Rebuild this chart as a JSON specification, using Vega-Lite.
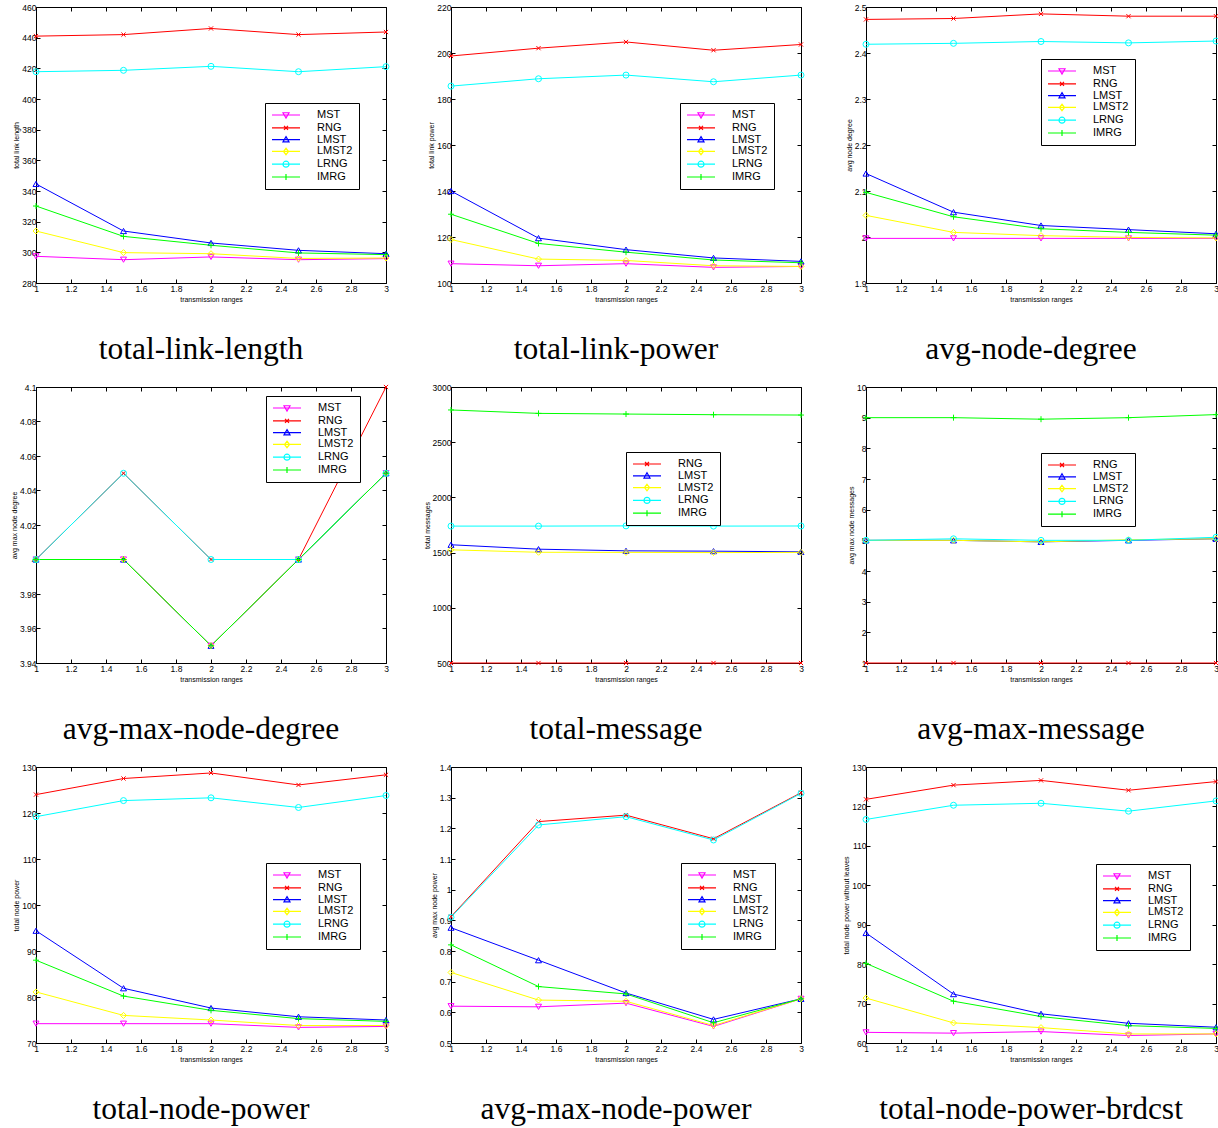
{
  "$schema": "https://vega.github.io/schema/vega-lite/v6.json",
  "padding": {"left": 9, "top": 2, "right": 0, "bottom": 0},
  "background": "white",
  "datasets": {
    "p1": [
      {"s":"MST","x":1,"y":297.4},{"s":"MST","x":1.5,"y":295.2},{"s":"MST","x":2,"y":297},{"s":"MST","x":2.5,"y":295.2},{"s":"MST","x":3,"y":295.9},
      {"s":"RNG","x":1,"y":441},{"s":"RNG","x":1.5,"y":442},{"s":"RNG","x":2,"y":446},{"s":"RNG","x":2.5,"y":442},{"s":"RNG","x":3,"y":443.7},
      {"s":"LMST","x":1,"y":344.6},{"s":"LMST","x":1.5,"y":313.9},{"s":"LMST","x":2,"y":306.1},{"s":"LMST","x":2.5,"y":301.3},{"s":"LMST","x":3,"y":299.1},
      {"s":"LMST2","x":1,"y":313.9},{"s":"LMST2","x":1.5,"y":299.8},{"s":"LMST2","x":2,"y":299.1},{"s":"LMST2","x":2.5,"y":296},{"s":"LMST2","x":3,"y":296.3},
      {"s":"LRNG","x":1,"y":417.8},{"s":"LRNG","x":1.5,"y":418.7},{"s":"LRNG","x":2,"y":421.3},{"s":"LRNG","x":2.5,"y":417.8},{"s":"LRNG","x":3,"y":421.1},
      {"s":"IMRG","x":1,"y":330.2},{"s":"IMRG","x":1.5,"y":310.4},{"s":"IMRG","x":2,"y":304.6},{"s":"IMRG","x":2.5,"y":299.6},{"s":"IMRG","x":3,"y":298.5}
    ],
    "p2": [
      {"s":"MST","x":1,"y":108.4},{"s":"MST","x":1.5,"y":107.5},{"s":"MST","x":2,"y":108.4},{"s":"MST","x":2.5,"y":106.8},{"s":"MST","x":3,"y":107.2},
      {"s":"RNG","x":1,"y":198.7},{"s":"RNG","x":1.5,"y":202.1},{"s":"RNG","x":2,"y":204.8},{"s":"RNG","x":2.5,"y":201.2},{"s":"RNG","x":3,"y":203.7},
      {"s":"LMST","x":1,"y":140},{"s":"LMST","x":1.5,"y":119.5},{"s":"LMST","x":2,"y":114.5},{"s":"LMST","x":2.5,"y":110.9},{"s":"LMST","x":3,"y":109.4},
      {"s":"LMST2","x":1,"y":118.9},{"s":"LMST2","x":1.5,"y":110.4},{"s":"LMST2","x":2,"y":109.8},{"s":"LMST2","x":2.5,"y":107.5},{"s":"LMST2","x":3,"y":107.2},
      {"s":"LRNG","x":1,"y":185.6},{"s":"LRNG","x":1.5,"y":188.8},{"s":"LRNG","x":2,"y":190.4},{"s":"LRNG","x":2.5,"y":187.5},{"s":"LRNG","x":3,"y":190.4},
      {"s":"IMRG","x":1,"y":129.9},{"s":"IMRG","x":1.5,"y":117.2},{"s":"IMRG","x":2,"y":113.4},{"s":"IMRG","x":2.5,"y":110},{"s":"IMRG","x":3,"y":108.8}
    ],
    "p3": [
      {"s":"MST","x":1,"y":1.997},{"s":"MST","x":1.5,"y":1.997},{"s":"MST","x":2,"y":1.997},{"s":"MST","x":2.5,"y":1.997},{"s":"MST","x":3,"y":1.997},
      {"s":"RNG","x":1,"y":2.473},{"s":"RNG","x":1.5,"y":2.475},{"s":"RNG","x":2,"y":2.485},{"s":"RNG","x":2.5,"y":2.48},{"s":"RNG","x":3,"y":2.48},
      {"s":"LMST","x":1,"y":2.138},{"s":"LMST","x":1.5,"y":2.054},{"s":"LMST","x":2,"y":2.025},{"s":"LMST","x":2.5,"y":2.016},{"s":"LMST","x":3,"y":2.007},
      {"s":"LMST2","x":1,"y":2.047},{"s":"LMST2","x":1.5,"y":2.01},{"s":"LMST2","x":2,"y":2.003},{"s":"LMST2","x":2.5,"y":1.999},{"s":"LMST2","x":3,"y":1.998},
      {"s":"LRNG","x":1,"y":2.419},{"s":"LRNG","x":1.5,"y":2.421},{"s":"LRNG","x":2,"y":2.425},{"s":"LRNG","x":2.5,"y":2.422},{"s":"LRNG","x":3,"y":2.426},
      {"s":"IMRG","x":1,"y":2.097},{"s":"IMRG","x":1.5,"y":2.044},{"s":"IMRG","x":2,"y":2.018},{"s":"IMRG","x":2.5,"y":2.01},{"s":"IMRG","x":3,"y":2.004}
    ],
    "p4": [
      {"s":"MST","x":1,"y":4},{"s":"MST","x":1.5,"y":4},{"s":"MST","x":2,"y":3.95},{"s":"MST","x":2.5,"y":4},{"s":"MST","x":3,"y":4.05},
      {"s":"RNG","x":1,"y":4},{"s":"RNG","x":1.5,"y":4.05},{"s":"RNG","x":2,"y":4},{"s":"RNG","x":2.5,"y":4},{"s":"RNG","x":3,"y":4.1},
      {"s":"LMST","x":1,"y":4},{"s":"LMST","x":1.5,"y":4},{"s":"LMST","x":2,"y":3.95},{"s":"LMST","x":2.5,"y":4},{"s":"LMST","x":3,"y":4.05},
      {"s":"LMST2","x":1,"y":4},{"s":"LMST2","x":1.5,"y":4},{"s":"LMST2","x":2,"y":3.95},{"s":"LMST2","x":2.5,"y":4},{"s":"LMST2","x":3,"y":4.05},
      {"s":"LRNG","x":1,"y":4},{"s":"LRNG","x":1.5,"y":4.05},{"s":"LRNG","x":2,"y":4},{"s":"LRNG","x":2.5,"y":4},{"s":"LRNG","x":3,"y":4.05},
      {"s":"IMRG","x":1,"y":4},{"s":"IMRG","x":1.5,"y":4},{"s":"IMRG","x":2,"y":3.95},{"s":"IMRG","x":2.5,"y":4},{"s":"IMRG","x":3,"y":4.05}
    ],
    "p5": [
      {"s":"RNG","x":1,"y":500},{"s":"RNG","x":1.5,"y":500},{"s":"RNG","x":2,"y":500},{"s":"RNG","x":2.5,"y":500},{"s":"RNG","x":3,"y":500},
      {"s":"LMST","x":1,"y":1571},{"s":"LMST","x":1.5,"y":1531},{"s":"LMST","x":2,"y":1516},{"s":"LMST","x":2.5,"y":1513},{"s":"LMST","x":3,"y":1507},
      {"s":"LMST2","x":1,"y":1525},{"s":"LMST2","x":1.5,"y":1503},{"s":"LMST2","x":2,"y":1502},{"s":"LMST2","x":2.5,"y":1500},{"s":"LMST2","x":3,"y":1502},
      {"s":"LRNG","x":1,"y":1740},{"s":"LRNG","x":1.5,"y":1740},{"s":"LRNG","x":2,"y":1742},{"s":"LRNG","x":2.5,"y":1740},{"s":"LRNG","x":3,"y":1741},
      {"s":"IMRG","x":1,"y":2792},{"s":"IMRG","x":1.5,"y":2761},{"s":"IMRG","x":2,"y":2755},{"s":"IMRG","x":2.5,"y":2749},{"s":"IMRG","x":3,"y":2746}
    ],
    "p6": [
      {"s":"RNG","x":1,"y":1},{"s":"RNG","x":1.5,"y":1},{"s":"RNG","x":2,"y":1},{"s":"RNG","x":2.5,"y":1},{"s":"RNG","x":3,"y":1},
      {"s":"LMST","x":1,"y":5},{"s":"LMST","x":1.5,"y":5},{"s":"LMST","x":2,"y":4.95},{"s":"LMST","x":2.5,"y":5},{"s":"LMST","x":3,"y":5.05},
      {"s":"LMST2","x":1,"y":5},{"s":"LMST2","x":1.5,"y":5},{"s":"LMST2","x":2,"y":4.95},{"s":"LMST2","x":2.5,"y":5.02},{"s":"LMST2","x":3,"y":5.05},
      {"s":"LRNG","x":1,"y":5},{"s":"LRNG","x":1.5,"y":5.05},{"s":"LRNG","x":2,"y":5},{"s":"LRNG","x":2.5,"y":5},{"s":"LRNG","x":3,"y":5.1},
      {"s":"IMRG","x":1,"y":9},{"s":"IMRG","x":1.5,"y":9},{"s":"IMRG","x":2,"y":8.95},{"s":"IMRG","x":2.5,"y":9},{"s":"IMRG","x":3,"y":9.1}
    ],
    "p7": [
      {"s":"MST","x":1,"y":74.2},{"s":"MST","x":1.5,"y":74.2},{"s":"MST","x":2,"y":74.2},{"s":"MST","x":2.5,"y":73.4},{"s":"MST","x":3,"y":73.6},
      {"s":"RNG","x":1,"y":124},{"s":"RNG","x":1.5,"y":127.5},{"s":"RNG","x":2,"y":128.7},{"s":"RNG","x":2.5,"y":126.1},{"s":"RNG","x":3,"y":128.3},
      {"s":"LMST","x":1,"y":94.4},{"s":"LMST","x":1.5,"y":81.9},{"s":"LMST","x":2,"y":77.6},{"s":"LMST","x":2.5,"y":75.7},{"s":"LMST","x":3,"y":75},
      {"s":"LMST2","x":1,"y":81.1},{"s":"LMST2","x":1.5,"y":76},{"s":"LMST2","x":2,"y":75},{"s":"LMST2","x":2.5,"y":73.8},{"s":"LMST2","x":3,"y":73.8},
      {"s":"LRNG","x":1,"y":119.2},{"s":"LRNG","x":1.5,"y":122.7},{"s":"LRNG","x":2,"y":123.3},{"s":"LRNG","x":2.5,"y":121.2},{"s":"LRNG","x":3,"y":123.8},
      {"s":"IMRG","x":1,"y":88},{"s":"IMRG","x":1.5,"y":80.2},{"s":"IMRG","x":2,"y":77.1},{"s":"IMRG","x":2.5,"y":75.3},{"s":"IMRG","x":3,"y":74.7}
    ],
    "p8": [
      {"s":"MST","x":1,"y":0.62},{"s":"MST","x":1.5,"y":0.618},{"s":"MST","x":2,"y":0.63},{"s":"MST","x":2.5,"y":0.554},{"s":"MST","x":3,"y":0.644},
      {"s":"RNG","x":1,"y":0.912},{"s":"RNG","x":1.5,"y":1.222},{"s":"RNG","x":2,"y":1.243},{"s":"RNG","x":2.5,"y":1.166},{"s":"RNG","x":3,"y":1.316},
      {"s":"LMST","x":1,"y":0.876},{"s":"LMST","x":1.5,"y":0.77},{"s":"LMST","x":2,"y":0.663},{"s":"LMST","x":2.5,"y":0.577},{"s":"LMST","x":3,"y":0.644},
      {"s":"LMST2","x":1,"y":0.73},{"s":"LMST2","x":1.5,"y":0.64},{"s":"LMST2","x":2,"y":0.636},{"s":"LMST2","x":2.5,"y":0.557},{"s":"LMST2","x":3,"y":0.644},
      {"s":"LRNG","x":1,"y":0.91},{"s":"LRNG","x":1.5,"y":1.211},{"s":"LRNG","x":2,"y":1.238},{"s":"LRNG","x":2.5,"y":1.162},{"s":"LRNG","x":3,"y":1.314},
      {"s":"IMRG","x":1,"y":0.82},{"s":"IMRG","x":1.5,"y":0.684},{"s":"IMRG","x":2,"y":0.66},{"s":"IMRG","x":2.5,"y":0.566},{"s":"IMRG","x":3,"y":0.644}
    ],
    "p9": [
      {"s":"MST","x":1,"y":62.7},{"s":"MST","x":1.5,"y":62.5},{"s":"MST","x":2,"y":62.9},{"s":"MST","x":2.5,"y":61.9},{"s":"MST","x":3,"y":62.3},
      {"s":"RNG","x":1,"y":121.8},{"s":"RNG","x":1.5,"y":125.4},{"s":"RNG","x":2,"y":126.6},{"s":"RNG","x":2.5,"y":124.1},{"s":"RNG","x":3,"y":126.3},
      {"s":"LMST","x":1,"y":87.9},{"s":"LMST","x":1.5,"y":72.4},{"s":"LMST","x":2,"y":67.4},{"s":"LMST","x":2.5,"y":65},{"s":"LMST","x":3,"y":64},
      {"s":"LMST2","x":1,"y":71.4},{"s":"LMST2","x":1.5,"y":65.1},{"s":"LMST2","x":2,"y":63.9},{"s":"LMST2","x":2.5,"y":62.3},{"s":"LMST2","x":3,"y":62.3},
      {"s":"LRNG","x":1,"y":116.7},{"s":"LRNG","x":1.5,"y":120.3},{"s":"LRNG","x":2,"y":120.8},{"s":"LRNG","x":2.5,"y":118.8},{"s":"LRNG","x":3,"y":121.4},
      {"s":"IMRG","x":1,"y":80.2},{"s":"IMRG","x":1.5,"y":70.6},{"s":"IMRG","x":2,"y":66.7},{"s":"IMRG","x":2.5,"y":64.4},{"s":"IMRG","x":3,"y":63.7}
    ]
  },
  "columns": 3,
  "spacing": {"row": 104, "column": 65},
  "bounds": "flush",
  "resolve": {"scale": {"color": "independent", "shape": "independent"}, "legend": {"color": "independent", "shape": "independent"}},
  "concat": [
    {
      "width": 350, "height": 276, "data": {"name": "p1"},
      "title": {"text": "total-link-length"},
      "layer": [
        {"mark": {"type": "line", "strokeWidth": 1},
         "encoding": {
           "x": {"field": "x", "type": "quantitative", "scale": {"domain": [1, 3], "nice": false, "zero": false}, "axis": {"orient": "bottom", "title": "transmission ranges", "values": [1,1.2,1.4,1.6,1.8,2,2.2,2.4,2.6,2.8,3], "labelExpr": "'' + datum.value"}},
           "y": {"field": "y", "type": "quantitative", "scale": {"domain": [280, 460], "nice": false, "zero": false}, "axis": {"orient": "left", "title": "total link length", "values": [280,300,320,340,360,380,400,420,440,460], "labelExpr": "'' + datum.value"}},
           "color": {"field": "s", "type": "nominal", "scale": {"domain": ["MST","RNG","LMST","LMST2","LRNG","IMRG"], "range": ["#ff00ff","#ff0000","#0000ff","#ffff00","#00ffff","#00ff00"]},
             "legend": {"legendX": 229, "legendY": 96, "title": null, "encode": {"symbols": {"update": {"shape": {"signal": "datum.value==='MST'?'M-2.8,0H2.8M-0.6,-0.45L0.6,-0.45L0,0.6Z':datum.value==='RNG'?'M-2.8,0H2.8M-0.4,-0.4L0.4,0.4M-0.4,0.4L0.4,-0.4':datum.value==='LMST'?'M-2.8,0H2.8M0,-0.6L0.6,0.45L-0.6,0.45Z':datum.value==='LMST2'?'M-2.8,0H2.8M0,-0.65L0.5,0L0,0.65L-0.5,0Z':datum.value==='LRNG'?'M-2.8,0H2.8M0.6,0A0.6,0.6,0,1,1,-0.6,0A0.6,0.6,0,1,1,0.6,0':'M-2.8,0H2.8M0,-0.6V0.6'"}, "fill": {"value": "transparent"}}}}}}
         }},
        {"mark": {"type": "point", "filled": false, "size": 36, "strokeWidth": 1, "opacity": 1},
         "encoding": {
           "x": {"field": "x", "type": "quantitative", "axis": {"orient": "top", "labels": false, "title": null, "values": [1,1.2,1.4,1.6,1.8,2,2.2,2.4,2.6,2.8,3]}},
           "y": {"field": "y", "type": "quantitative", "axis": {"orient": "right", "labels": false, "title": null, "values": [280,300,320,340,360,380,400,420,440,460]}},
           "color": {"field": "s", "type": "nominal", "legend": null},
           "shape": {"field": "s", "type": "nominal", "scale": {"domain": ["IMRG","LRNG","LMST2","LMST","RNG","MST"], "range": ["M-1,0H1M0,-1V1","circle","diamond","triangle-up","M-0.7,-0.7L0.7,0.7M-0.7,0.7L0.7,-0.7","triangle-down"]}, "legend": null}
         }}
      ]
    },
    {
      "width": 350, "height": 276, "data": {"name": "p2"},
      "title": {"text": "total-link-power"},
      "layer": [
        {"mark": {"type": "line", "strokeWidth": 1},
         "encoding": {
           "x": {"field": "x", "type": "quantitative", "scale": {"domain": [1, 3], "nice": false, "zero": false}, "axis": {"orient": "bottom", "title": "transmission ranges", "values": [1,1.2,1.4,1.6,1.8,2,2.2,2.4,2.6,2.8,3], "labelExpr": "'' + datum.value"}},
           "y": {"field": "y", "type": "quantitative", "scale": {"domain": [100, 220], "nice": false, "zero": false}, "axis": {"orient": "left", "title": "total link power", "values": [100,120,140,160,180,200,220], "labelExpr": "'' + datum.value"}},
           "color": {"field": "s", "type": "nominal", "scale": {"domain": ["MST","RNG","LMST","LMST2","LRNG","IMRG"], "range": ["#ff00ff","#ff0000","#0000ff","#ffff00","#00ffff","#00ff00"]},
             "legend": {"legendX": 229, "legendY": 96, "title": null, "encode": {"symbols": {"update": {"shape": {"signal": "datum.value==='MST'?'M-2.8,0H2.8M-0.6,-0.45L0.6,-0.45L0,0.6Z':datum.value==='RNG'?'M-2.8,0H2.8M-0.4,-0.4L0.4,0.4M-0.4,0.4L0.4,-0.4':datum.value==='LMST'?'M-2.8,0H2.8M0,-0.6L0.6,0.45L-0.6,0.45Z':datum.value==='LMST2'?'M-2.8,0H2.8M0,-0.65L0.5,0L0,0.65L-0.5,0Z':datum.value==='LRNG'?'M-2.8,0H2.8M0.6,0A0.6,0.6,0,1,1,-0.6,0A0.6,0.6,0,1,1,0.6,0':'M-2.8,0H2.8M0,-0.6V0.6'"}, "fill": {"value": "transparent"}}}}}}
         }},
        {"mark": {"type": "point", "filled": false, "size": 36, "strokeWidth": 1, "opacity": 1},
         "encoding": {
           "x": {"field": "x", "type": "quantitative", "axis": {"orient": "top", "labels": false, "title": null, "values": [1,1.2,1.4,1.6,1.8,2,2.2,2.4,2.6,2.8,3]}},
           "y": {"field": "y", "type": "quantitative", "axis": {"orient": "right", "labels": false, "title": null, "values": [100,120,140,160,180,200,220]}},
           "color": {"field": "s", "type": "nominal", "legend": null},
           "shape": {"field": "s", "type": "nominal", "scale": {"domain": ["IMRG","LRNG","LMST2","LMST","RNG","MST"], "range": ["M-1,0H1M0,-1V1","circle","diamond","triangle-up","M-0.7,-0.7L0.7,0.7M-0.7,0.7L0.7,-0.7","triangle-down"]}, "legend": null}
         }}
      ]
    },
    {
      "width": 350, "height": 276, "data": {"name": "p3"},
      "title": {"text": "avg-node-degree"},
      "layer": [
        {"mark": {"type": "line", "strokeWidth": 1},
         "encoding": {
           "x": {"field": "x", "type": "quantitative", "scale": {"domain": [1, 3], "nice": false, "zero": false}, "axis": {"orient": "bottom", "title": "transmission ranges", "values": [1,1.2,1.4,1.6,1.8,2,2.2,2.4,2.6,2.8,3], "labelExpr": "'' + datum.value"}},
           "y": {"field": "y", "type": "quantitative", "scale": {"domain": [1.9, 2.5], "nice": false, "zero": false}, "axis": {"orient": "left", "title": "avg node degree", "values": [1.9,2,2.1,2.2,2.3,2.4,2.5], "labelExpr": "'' + datum.value"}},
           "color": {"field": "s", "type": "nominal", "scale": {"domain": ["MST","RNG","LMST","LMST2","LRNG","IMRG"], "range": ["#ff00ff","#ff0000","#0000ff","#ffff00","#00ffff","#00ff00"]},
             "legend": {"legendX": 175, "legendY": 52, "title": null, "encode": {"symbols": {"update": {"shape": {"signal": "datum.value==='MST'?'M-2.8,0H2.8M-0.6,-0.45L0.6,-0.45L0,0.6Z':datum.value==='RNG'?'M-2.8,0H2.8M-0.4,-0.4L0.4,0.4M-0.4,0.4L0.4,-0.4':datum.value==='LMST'?'M-2.8,0H2.8M0,-0.6L0.6,0.45L-0.6,0.45Z':datum.value==='LMST2'?'M-2.8,0H2.8M0,-0.65L0.5,0L0,0.65L-0.5,0Z':datum.value==='LRNG'?'M-2.8,0H2.8M0.6,0A0.6,0.6,0,1,1,-0.6,0A0.6,0.6,0,1,1,0.6,0':'M-2.8,0H2.8M0,-0.6V0.6'"}, "fill": {"value": "transparent"}}}}}}
         }},
        {"mark": {"type": "point", "filled": false, "size": 36, "strokeWidth": 1, "opacity": 1},
         "encoding": {
           "x": {"field": "x", "type": "quantitative", "axis": {"orient": "top", "labels": false, "title": null, "values": [1,1.2,1.4,1.6,1.8,2,2.2,2.4,2.6,2.8,3]}},
           "y": {"field": "y", "type": "quantitative", "axis": {"orient": "right", "labels": false, "title": null, "values": [1.9,2,2.1,2.2,2.3,2.4,2.5]}},
           "color": {"field": "s", "type": "nominal", "legend": null},
           "shape": {"field": "s", "type": "nominal", "scale": {"domain": ["IMRG","LRNG","LMST2","LMST","RNG","MST"], "range": ["M-1,0H1M0,-1V1","circle","diamond","triangle-up","M-0.7,-0.7L0.7,0.7M-0.7,0.7L0.7,-0.7","triangle-down"]}, "legend": null}
         }}
      ]
    },
    {
      "width": 350, "height": 276, "data": {"name": "p4"},
      "title": {"text": "avg-max-node-degree"},
      "layer": [
        {"mark": {"type": "line", "strokeWidth": 1},
         "encoding": {
           "x": {"field": "x", "type": "quantitative", "scale": {"domain": [1, 3], "nice": false, "zero": false}, "axis": {"orient": "bottom", "title": "transmission ranges", "values": [1,1.2,1.4,1.6,1.8,2,2.2,2.4,2.6,2.8,3], "labelExpr": "'' + datum.value"}},
           "y": {"field": "y", "type": "quantitative", "scale": {"domain": [3.94, 4.1], "nice": false, "zero": false}, "axis": {"orient": "left", "title": "avg max node degree", "values": [3.94,3.96,3.98,4,4.02,4.04,4.06,4.08,4.1], "labelExpr": "'' + datum.value"}},
           "color": {"field": "s", "type": "nominal", "scale": {"domain": ["MST","RNG","LMST","LMST2","LRNG","IMRG"], "range": ["#ff00ff","#ff0000","#0000ff","#ffff00","#00ffff","#00ff00"]},
             "legend": {"legendX": 230, "legendY": 9, "title": null, "encode": {"symbols": {"update": {"shape": {"signal": "datum.value==='MST'?'M-2.8,0H2.8M-0.6,-0.45L0.6,-0.45L0,0.6Z':datum.value==='RNG'?'M-2.8,0H2.8M-0.4,-0.4L0.4,0.4M-0.4,0.4L0.4,-0.4':datum.value==='LMST'?'M-2.8,0H2.8M0,-0.6L0.6,0.45L-0.6,0.45Z':datum.value==='LMST2'?'M-2.8,0H2.8M0,-0.65L0.5,0L0,0.65L-0.5,0Z':datum.value==='LRNG'?'M-2.8,0H2.8M0.6,0A0.6,0.6,0,1,1,-0.6,0A0.6,0.6,0,1,1,0.6,0':'M-2.8,0H2.8M0,-0.6V0.6'"}, "fill": {"value": "transparent"}}}}}}
         }},
        {"mark": {"type": "point", "filled": false, "size": 36, "strokeWidth": 1, "opacity": 1},
         "encoding": {
           "x": {"field": "x", "type": "quantitative", "axis": {"orient": "top", "labels": false, "title": null, "values": [1,1.2,1.4,1.6,1.8,2,2.2,2.4,2.6,2.8,3]}},
           "y": {"field": "y", "type": "quantitative", "axis": {"orient": "right", "labels": false, "title": null, "values": [3.94,3.96,3.98,4,4.02,4.04,4.06,4.08,4.1]}},
           "color": {"field": "s", "type": "nominal", "legend": null},
           "shape": {"field": "s", "type": "nominal", "scale": {"domain": ["IMRG","LRNG","LMST2","LMST","RNG","MST"], "range": ["M-1,0H1M0,-1V1","circle","diamond","triangle-up","M-0.7,-0.7L0.7,0.7M-0.7,0.7L0.7,-0.7","triangle-down"]}, "legend": null}
         }}
      ]
    },
    {
      "width": 350, "height": 276, "data": {"name": "p5"},
      "title": {"text": "total-message"},
      "layer": [
        {"mark": {"type": "line", "strokeWidth": 1},
         "encoding": {
           "x": {"field": "x", "type": "quantitative", "scale": {"domain": [1, 3], "nice": false, "zero": false}, "axis": {"orient": "bottom", "title": "transmission ranges", "values": [1,1.2,1.4,1.6,1.8,2,2.2,2.4,2.6,2.8,3], "labelExpr": "'' + datum.value"}},
           "y": {"field": "y", "type": "quantitative", "scale": {"domain": [500, 3000], "nice": false, "zero": false}, "axis": {"orient": "left", "title": "total messages", "values": [500,1000,1500,2000,2500,3000], "labelExpr": "'' + datum.value"}},
           "color": {"field": "s", "type": "nominal", "scale": {"domain": ["RNG","LMST","LMST2","LRNG","IMRG"], "range": ["#ff0000","#0000ff","#ffff00","#00ffff","#00ff00"]},
             "legend": {"legendX": 175, "legendY": 65, "title": null, "encode": {"symbols": {"update": {"shape": {"signal": "datum.value==='MST'?'M-2.8,0H2.8M-0.6,-0.45L0.6,-0.45L0,0.6Z':datum.value==='RNG'?'M-2.8,0H2.8M-0.4,-0.4L0.4,0.4M-0.4,0.4L0.4,-0.4':datum.value==='LMST'?'M-2.8,0H2.8M0,-0.6L0.6,0.45L-0.6,0.45Z':datum.value==='LMST2'?'M-2.8,0H2.8M0,-0.65L0.5,0L0,0.65L-0.5,0Z':datum.value==='LRNG'?'M-2.8,0H2.8M0.6,0A0.6,0.6,0,1,1,-0.6,0A0.6,0.6,0,1,1,0.6,0':'M-2.8,0H2.8M0,-0.6V0.6'"}, "fill": {"value": "transparent"}}}}}}
         }},
        {"mark": {"type": "point", "filled": false, "size": 36, "strokeWidth": 1, "opacity": 1},
         "encoding": {
           "x": {"field": "x", "type": "quantitative", "axis": {"orient": "top", "labels": false, "title": null, "values": [1,1.2,1.4,1.6,1.8,2,2.2,2.4,2.6,2.8,3]}},
           "y": {"field": "y", "type": "quantitative", "axis": {"orient": "right", "labels": false, "title": null, "values": [500,1000,1500,2000,2500,3000]}},
           "color": {"field": "s", "type": "nominal", "legend": null},
           "shape": {"field": "s", "type": "nominal", "scale": {"domain": ["IMRG","LRNG","LMST2","LMST","RNG"], "range": ["M-1,0H1M0,-1V1","circle","diamond","triangle-up","M-0.7,-0.7L0.7,0.7M-0.7,0.7L0.7,-0.7"]}, "legend": null}
         }}
      ]
    },
    {
      "width": 350, "height": 276, "data": {"name": "p6"},
      "title": {"text": "avg-max-message"},
      "layer": [
        {"mark": {"type": "line", "strokeWidth": 1},
         "encoding": {
           "x": {"field": "x", "type": "quantitative", "scale": {"domain": [1, 3], "nice": false, "zero": false}, "axis": {"orient": "bottom", "title": "transmission ranges", "values": [1,1.2,1.4,1.6,1.8,2,2.2,2.4,2.6,2.8,3], "labelExpr": "'' + datum.value"}},
           "y": {"field": "y", "type": "quantitative", "scale": {"domain": [1, 10], "nice": false, "zero": false}, "axis": {"orient": "left", "title": "avg max node messages", "values": [1,2,3,4,5,6,7,8,9,10], "labelExpr": "'' + datum.value"}},
           "color": {"field": "s", "type": "nominal", "scale": {"domain": ["RNG","LMST","LMST2","LRNG","IMRG"], "range": ["#ff0000","#0000ff","#ffff00","#00ffff","#00ff00"]},
             "legend": {"legendX": 175, "legendY": 66, "title": null, "encode": {"symbols": {"update": {"shape": {"signal": "datum.value==='MST'?'M-2.8,0H2.8M-0.6,-0.45L0.6,-0.45L0,0.6Z':datum.value==='RNG'?'M-2.8,0H2.8M-0.4,-0.4L0.4,0.4M-0.4,0.4L0.4,-0.4':datum.value==='LMST'?'M-2.8,0H2.8M0,-0.6L0.6,0.45L-0.6,0.45Z':datum.value==='LMST2'?'M-2.8,0H2.8M0,-0.65L0.5,0L0,0.65L-0.5,0Z':datum.value==='LRNG'?'M-2.8,0H2.8M0.6,0A0.6,0.6,0,1,1,-0.6,0A0.6,0.6,0,1,1,0.6,0':'M-2.8,0H2.8M0,-0.6V0.6'"}, "fill": {"value": "transparent"}}}}}}
         }},
        {"mark": {"type": "point", "filled": false, "size": 36, "strokeWidth": 1, "opacity": 1},
         "encoding": {
           "x": {"field": "x", "type": "quantitative", "axis": {"orient": "top", "labels": false, "title": null, "values": [1,1.2,1.4,1.6,1.8,2,2.2,2.4,2.6,2.8,3]}},
           "y": {"field": "y", "type": "quantitative", "axis": {"orient": "right", "labels": false, "title": null, "values": [1,2,3,4,5,6,7,8,9,10]}},
           "color": {"field": "s", "type": "nominal", "legend": null},
           "shape": {"field": "s", "type": "nominal", "scale": {"domain": ["IMRG","LRNG","LMST2","LMST","RNG"], "range": ["M-1,0H1M0,-1V1","circle","diamond","triangle-up","M-0.7,-0.7L0.7,0.7M-0.7,0.7L0.7,-0.7"]}, "legend": null}
         }}
      ]
    },
    {
      "width": 350, "height": 276, "data": {"name": "p7"},
      "title": {"text": "total-node-power"},
      "layer": [
        {"mark": {"type": "line", "strokeWidth": 1},
         "encoding": {
           "x": {"field": "x", "type": "quantitative", "scale": {"domain": [1, 3], "nice": false, "zero": false}, "axis": {"orient": "bottom", "title": "transmission ranges", "values": [1,1.2,1.4,1.6,1.8,2,2.2,2.4,2.6,2.8,3], "labelExpr": "'' + datum.value"}},
           "y": {"field": "y", "type": "quantitative", "scale": {"domain": [70, 130], "nice": false, "zero": false}, "axis": {"orient": "left", "title": "total node power", "values": [70,80,90,100,110,120,130], "labelExpr": "'' + datum.value"}},
           "color": {"field": "s", "type": "nominal", "scale": {"domain": ["MST","RNG","LMST","LMST2","LRNG","IMRG"], "range": ["#ff00ff","#ff0000","#0000ff","#ffff00","#00ffff","#00ff00"]},
             "legend": {"legendX": 230, "legendY": 96, "title": null, "encode": {"symbols": {"update": {"shape": {"signal": "datum.value==='MST'?'M-2.8,0H2.8M-0.6,-0.45L0.6,-0.45L0,0.6Z':datum.value==='RNG'?'M-2.8,0H2.8M-0.4,-0.4L0.4,0.4M-0.4,0.4L0.4,-0.4':datum.value==='LMST'?'M-2.8,0H2.8M0,-0.6L0.6,0.45L-0.6,0.45Z':datum.value==='LMST2'?'M-2.8,0H2.8M0,-0.65L0.5,0L0,0.65L-0.5,0Z':datum.value==='LRNG'?'M-2.8,0H2.8M0.6,0A0.6,0.6,0,1,1,-0.6,0A0.6,0.6,0,1,1,0.6,0':'M-2.8,0H2.8M0,-0.6V0.6'"}, "fill": {"value": "transparent"}}}}}}
         }},
        {"mark": {"type": "point", "filled": false, "size": 36, "strokeWidth": 1, "opacity": 1},
         "encoding": {
           "x": {"field": "x", "type": "quantitative", "axis": {"orient": "top", "labels": false, "title": null, "values": [1,1.2,1.4,1.6,1.8,2,2.2,2.4,2.6,2.8,3]}},
           "y": {"field": "y", "type": "quantitative", "axis": {"orient": "right", "labels": false, "title": null, "values": [70,80,90,100,110,120,130]}},
           "color": {"field": "s", "type": "nominal", "legend": null},
           "shape": {"field": "s", "type": "nominal", "scale": {"domain": ["IMRG","LRNG","LMST2","LMST","RNG","MST"], "range": ["M-1,0H1M0,-1V1","circle","diamond","triangle-up","M-0.7,-0.7L0.7,0.7M-0.7,0.7L0.7,-0.7","triangle-down"]}, "legend": null}
         }}
      ]
    },
    {
      "width": 350, "height": 276, "data": {"name": "p8"},
      "title": {"text": "avg-max-node-power"},
      "layer": [
        {"mark": {"type": "line", "strokeWidth": 1},
         "encoding": {
           "x": {"field": "x", "type": "quantitative", "scale": {"domain": [1, 3], "nice": false, "zero": false}, "axis": {"orient": "bottom", "title": "transmission ranges", "values": [1,1.2,1.4,1.6,1.8,2,2.2,2.4,2.6,2.8,3], "labelExpr": "'' + datum.value"}},
           "y": {"field": "y", "type": "quantitative", "scale": {"domain": [0.5, 1.4], "nice": false, "zero": false}, "axis": {"orient": "left", "title": "avg max node power", "values": [0.5,0.6,0.7,0.8,0.9,1,1.1,1.2,1.3,1.4], "labelExpr": "'' + datum.value"}},
           "color": {"field": "s", "type": "nominal", "scale": {"domain": ["MST","RNG","LMST","LMST2","LRNG","IMRG"], "range": ["#ff00ff","#ff0000","#0000ff","#ffff00","#00ffff","#00ff00"]},
             "legend": {"legendX": 230, "legendY": 96, "title": null, "encode": {"symbols": {"update": {"shape": {"signal": "datum.value==='MST'?'M-2.8,0H2.8M-0.6,-0.45L0.6,-0.45L0,0.6Z':datum.value==='RNG'?'M-2.8,0H2.8M-0.4,-0.4L0.4,0.4M-0.4,0.4L0.4,-0.4':datum.value==='LMST'?'M-2.8,0H2.8M0,-0.6L0.6,0.45L-0.6,0.45Z':datum.value==='LMST2'?'M-2.8,0H2.8M0,-0.65L0.5,0L0,0.65L-0.5,0Z':datum.value==='LRNG'?'M-2.8,0H2.8M0.6,0A0.6,0.6,0,1,1,-0.6,0A0.6,0.6,0,1,1,0.6,0':'M-2.8,0H2.8M0,-0.6V0.6'"}, "fill": {"value": "transparent"}}}}}}
         }},
        {"mark": {"type": "point", "filled": false, "size": 36, "strokeWidth": 1, "opacity": 1},
         "encoding": {
           "x": {"field": "x", "type": "quantitative", "axis": {"orient": "top", "labels": false, "title": null, "values": [1,1.2,1.4,1.6,1.8,2,2.2,2.4,2.6,2.8,3]}},
           "y": {"field": "y", "type": "quantitative", "axis": {"orient": "right", "labels": false, "title": null, "values": [0.5,0.6,0.7,0.8,0.9,1,1.1,1.2,1.3,1.4]}},
           "color": {"field": "s", "type": "nominal", "legend": null},
           "shape": {"field": "s", "type": "nominal", "scale": {"domain": ["IMRG","LRNG","LMST2","LMST","RNG","MST"], "range": ["M-1,0H1M0,-1V1","circle","diamond","triangle-up","M-0.7,-0.7L0.7,0.7M-0.7,0.7L0.7,-0.7","triangle-down"]}, "legend": null}
         }}
      ]
    },
    {
      "width": 350, "height": 276, "data": {"name": "p9"},
      "title": {"text": "total-node-power-brdcst"},
      "layer": [
        {"mark": {"type": "line", "strokeWidth": 1},
         "encoding": {
           "x": {"field": "x", "type": "quantitative", "scale": {"domain": [1, 3], "nice": false, "zero": false}, "axis": {"orient": "bottom", "title": "transmission ranges", "values": [1,1.2,1.4,1.6,1.8,2,2.2,2.4,2.6,2.8,3], "labelExpr": "'' + datum.value"}},
           "y": {"field": "y", "type": "quantitative", "scale": {"domain": [60, 130], "nice": false, "zero": false}, "axis": {"orient": "left", "title": "total node power without leaves", "values": [60,70,80,90,100,110,120,130], "labelExpr": "'' + datum.value"}},
           "color": {"field": "s", "type": "nominal", "scale": {"domain": ["MST","RNG","LMST","LMST2","LRNG","IMRG"], "range": ["#ff00ff","#ff0000","#0000ff","#ffff00","#00ffff","#00ff00"]},
             "legend": {"legendX": 230, "legendY": 97, "title": null, "encode": {"symbols": {"update": {"shape": {"signal": "datum.value==='MST'?'M-2.8,0H2.8M-0.6,-0.45L0.6,-0.45L0,0.6Z':datum.value==='RNG'?'M-2.8,0H2.8M-0.4,-0.4L0.4,0.4M-0.4,0.4L0.4,-0.4':datum.value==='LMST'?'M-2.8,0H2.8M0,-0.6L0.6,0.45L-0.6,0.45Z':datum.value==='LMST2'?'M-2.8,0H2.8M0,-0.65L0.5,0L0,0.65L-0.5,0Z':datum.value==='LRNG'?'M-2.8,0H2.8M0.6,0A0.6,0.6,0,1,1,-0.6,0A0.6,0.6,0,1,1,0.6,0':'M-2.8,0H2.8M0,-0.6V0.6'"}, "fill": {"value": "transparent"}}}}}}
         }},
        {"mark": {"type": "point", "filled": false, "size": 36, "strokeWidth": 1, "opacity": 1},
         "encoding": {
           "x": {"field": "x", "type": "quantitative", "axis": {"orient": "top", "labels": false, "title": null, "values": [1,1.2,1.4,1.6,1.8,2,2.2,2.4,2.6,2.8,3]}},
           "y": {"field": "y", "type": "quantitative", "axis": {"orient": "right", "labels": false, "title": null, "values": [60,70,80,90,100,110,120,130]}},
           "color": {"field": "s", "type": "nominal", "legend": null},
           "shape": {"field": "s", "type": "nominal", "scale": {"domain": ["IMRG","LRNG","LMST2","LMST","RNG","MST"], "range": ["M-1,0H1M0,-1V1","circle","diamond","triangle-up","M-0.7,-0.7L0.7,0.7M-0.7,0.7L0.7,-0.7","triangle-down"]}, "legend": null}
         }}
      ]
    }
  ],
  "config": {
    "font": "Liberation Sans",
    "view": {"stroke": "black", "strokeWidth": 1},
    "axis": {
      "grid": false, "domain": false,
      "ticks": true, "tickSize": -4, "tickColor": "black", "tickWidth": 1,
      "labelFont": "Liberation Sans", "labelFontSize": 8.5, "labelColor": "black", "labelPadding": 4,
      "labelFlush": false, "labelOverlap": false,
      "titleFont": "Liberation Sans", "titleFontSize": 7, "titleFontWeight": "normal", "titleColor": "black", "titlePadding": 1
    },
    "axisX": {"labelPadding": 5.5, "titlePadding": 2.5},
    "axisY": {"titlePadding": 2},
    "legend": {
      "orient": "none", "padding": 6, "rowPadding": 0.8,
      "strokeColor": "black", "fillColor": "white",
      "labelFont": "Liberation Sans", "labelFontSize": 11, "labelColor": "black",
      "symbolSize": 100, "symbolStrokeWidth": 1.2, "symbolOffset": 9, "labelOffset": 25
    },
    "title": {
      "orient": "bottom", "anchor": "middle", "font": "Liberation Serif", "fontSize": 31.5,
      "fontWeight": "normal", "color": "black", "offset": 31, "dx": -10
    }
  }
}
